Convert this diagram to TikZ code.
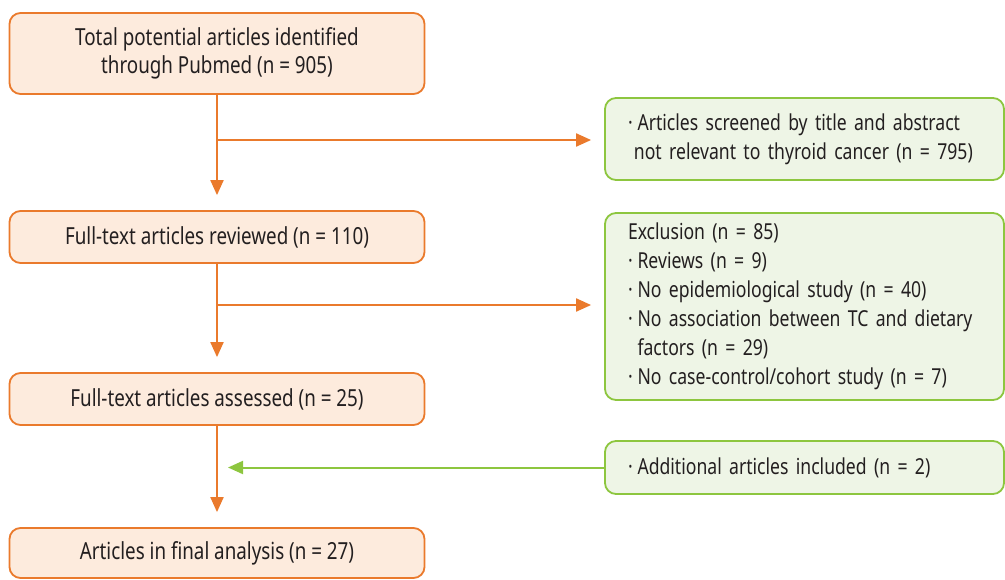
\documentclass[tikz,border=0pt]{standalone}
\usepackage{fontspec}
\setmainfont[FakeStretch=0.8]{Noto Sans}
\usetikzlibrary{arrows.meta,calc}
\definecolor{orline}{HTML}{EA7A2C}
\definecolor{orfill}{HTML}{FDEBDD}
\definecolor{grline}{HTML}{8DC63F}
\definecolor{grfill}{HTML}{EEF5E6}
\definecolor{txt}{HTML}{231F20}
\newcommand{\bul}{\textperiodcentered\hspace{0.22em}}
\newcommand{\nobul}{\phantom{\textperiodcentered}\hspace{0.22em}}
\newcommand{\oneline}[1]{\mbox{#1}}
\begin{document}
\begin{tikzpicture}[x=1pt,y=-1pt,
  every node/.style={text=txt},
  obox/.style={draw=orline, fill=orfill, line width=1.8pt, rounded corners=11pt,
    minimum width=415pt, align=center, inner sep=0pt, font=\fontsize{23.5}{28.6}\selectfont},
  gbox/.style={draw=grline, fill=grfill, line width=1.8pt, rounded corners=11pt,
    minimum width=399pt, text width=353pt, align=left, inner xsep=23pt, inner ysep=0pt,
    font=\fontsize{22}{29}\selectfont},
  oarr/.style={draw=orline, line width=2pt, -{Triangle[length=15pt,width=13pt]}},
  garr/.style={draw=grline, line width=2pt, -{Triangle[length=15pt,width=13pt]}}]
\useasboundingbox (0,0) rectangle (1005,579);
\node[obox, minimum height=81pt] (b1) at (217,53.5) {Total potential articles identified\\through Pubmed (n = 905)};
\node[obox, minimum height=52pt] (b2) at (217,237) {Full-text articles reviewed (n = 110)};
\node[obox, minimum height=52pt] (b3) at (217,399) {Full-text articles assessed (n = 25)};
\node[obox, minimum height=50pt] (b4) at (217,553) {Articles in final analysis (n = 27)};
\node[gbox, minimum height=82pt] (g1) at (804.5,139) {\oneline{\bul Articles screened by title and abstract}\\\oneline{\hspace{0.27em}not relevant to thyroid cancer (n = 795)}};
\node[gbox, minimum height=187pt] (g2) at (804.5,306.5) {\oneline{Exclusion (n = 85)}\\\oneline{\bul Reviews (n = 9)}\\\oneline{\bul No epidemiological study (n = 40)}\\\oneline{\bul No association between TC and dietary}\\\oneline{\nobul factors (n = 29)}\\\oneline{\bul No case-control/cohort study (n = 7)}};
\node[gbox, minimum height=53pt] (g3) at (804.5,467.5) {\oneline{\bul Additional articles included (n = 2)}};
\coordinate (j1) at (217,140);
\coordinate (j2) at (217,305);
\draw[oarr, shorten >=15pt] (b1.south) -- (b2.north);
\draw[oarr, shorten >=13pt] (j1) -- (j1 -| g1.west);
\draw[oarr, shorten >=15pt] (b2.south) -- (b3.north);
\draw[oarr, shorten >=13pt] (j2) -- (j2 -| g2.west);
\draw[oarr, shorten >=15pt] (b3.south) -- (b4.north);
\draw[garr, shorten >=11pt] (g3.west) -- (g3.west -| b3.south);
\end{tikzpicture}
\end{document}
